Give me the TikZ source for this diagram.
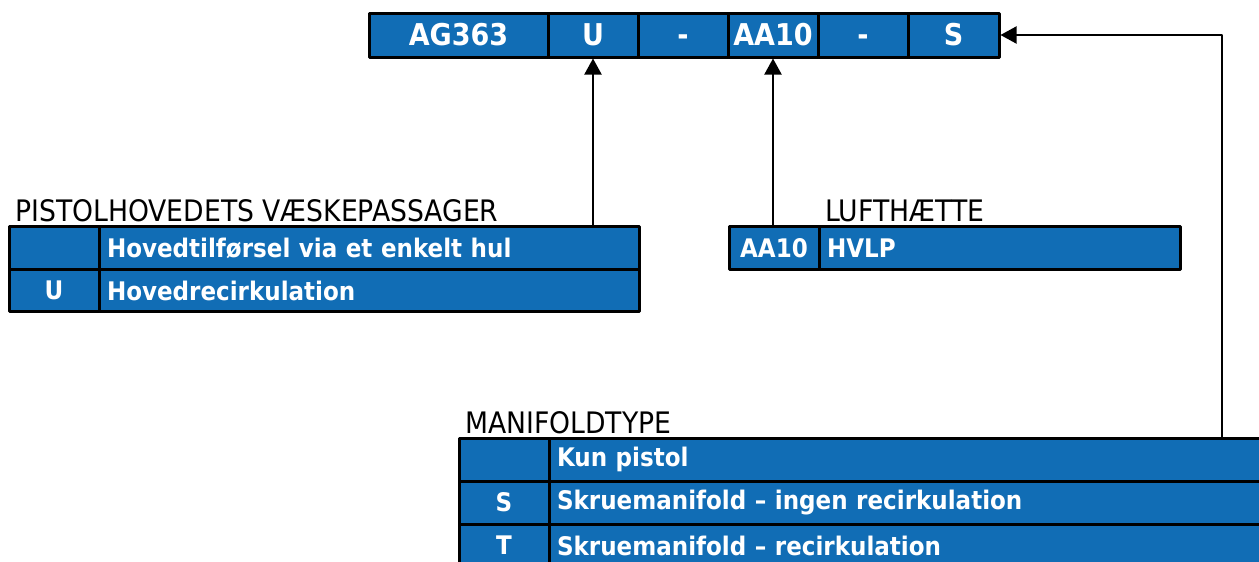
\documentclass[tikz,border=0pt]{standalone}
\usepackage{fontspec}
\setmainfont{DejaVu Sans Condensed}
\usetikzlibrary{positioning}
\usetikzlibrary{arrows.meta}
\definecolor{kodeblaa}{HTML}{116DB5}
\tikzset{every path/.style={line cap=round, line join=round}}
\tikzset{
  felt/.style={draw=black, line width=1.5pt, fill=kodeblaa, text=white,
    font=\bfseries\fontsize{12.8}{14}\selectfont, inner sep=0pt, outer sep=0pt},
  topfelt/.style={felt, font=\bfseries\fontsize{15}{17}\selectfont,
    text height=10.8pt, text depth=0pt, minimum height=22pt, minimum width=#1},
  kode/.style={felt, minimum width=45pt, minimum height=#1},
  tekst/.style={felt, text width=#1, align=left, inner xsep=4pt},
  titel/.style={font=\fontsize{14.8}{16}\selectfont, inner sep=0pt},
  pil/.style={line width=1pt, -{Triangle[length=8pt,width=8.5pt]}, shorten >=0.75pt}
}
\begin{document}
\begin{tikzpicture}[x=0.5pt, y=-0.5pt]
        \useasboundingbox (0,0) rectangle (1259,562);
        %kodenummer
        \node[topfelt=89.5pt] (ag) at (458.5,35) {AG363};
        \node[topfelt=45pt, right=0pt of ag] (u) {U};
        \node[topfelt=45pt, right=0pt of u] (streg1) {-};
        \node[topfelt=45pt, right=0pt of streg1] (aa) {AA10};
        \node[topfelt=45pt, right=0pt of aa] (streg2) {-};
        \node[topfelt=45.5pt, right=0pt of streg2] (s) {S};
        %pistolhoved
        \node[kode=21.25pt] (pk1) at (54,248) {};
        \node[tekst=262pt, minimum height=21.25pt, right=0pt of pk1] (pt1) {Hovedtilførsel via et enkelt hul};
        \node[kode=21.25pt, below=0pt of pk1] (pk2) {U};
        \node[tekst=262pt, minimum height=21.25pt, right=0pt of pk2] (pt2) {Hovedrecirkulation};
        \node[titel, above right=2pt and 3pt of pk1.north west] (ptitel) {PISTOLHOVEDETS VÆSKEPASSAGER};
        %lufthaette
        \node[kode=21.5pt] (lk) at (774,248) {AA10};
        \node[tekst=172.5pt, minimum height=21.5pt, right=0pt of lk] (lt) {HVLP};
        \node[titel, above right=2pt and 3pt of lt.north west] (ltitel) {LUFTHÆTTE};
        %manifold
        \node[kode=21.5pt] (mk1) at (504,459.5) {};
        \node[tekst=350pt, minimum height=21.5pt, right=0pt of mk1] (mt1) {Kun pistol};
        \node[kode=21.5pt, below=0pt of mk1] (mk2) {S};
        \node[tekst=350pt, minimum height=21.5pt, right=0pt of mk2] (mt2) {Skruemanifold – ingen recirkulation};
        \node[kode=21.5pt, below=0pt of mk2] (mk3) {T};
        \node[tekst=350pt, minimum height=21.5pt, right=0pt of mk3] (mt3) {Skruemanifold – recirkulation};
        \node[titel, above right=2pt and 3pt of mk1.north west] (mtitel) {MANIFOLDTYPE};
        %pile
        \coordinate (knaek) at (1222,0);
        \draw[pil] (u.south |- pt1.north) -- (u.south);
        \draw[pil] (aa.south |- lt.north) -- (aa.south);
        \draw[pil] (knaek |- mt1.north) |- (s.east);
\end{tikzpicture}
\end{document}
